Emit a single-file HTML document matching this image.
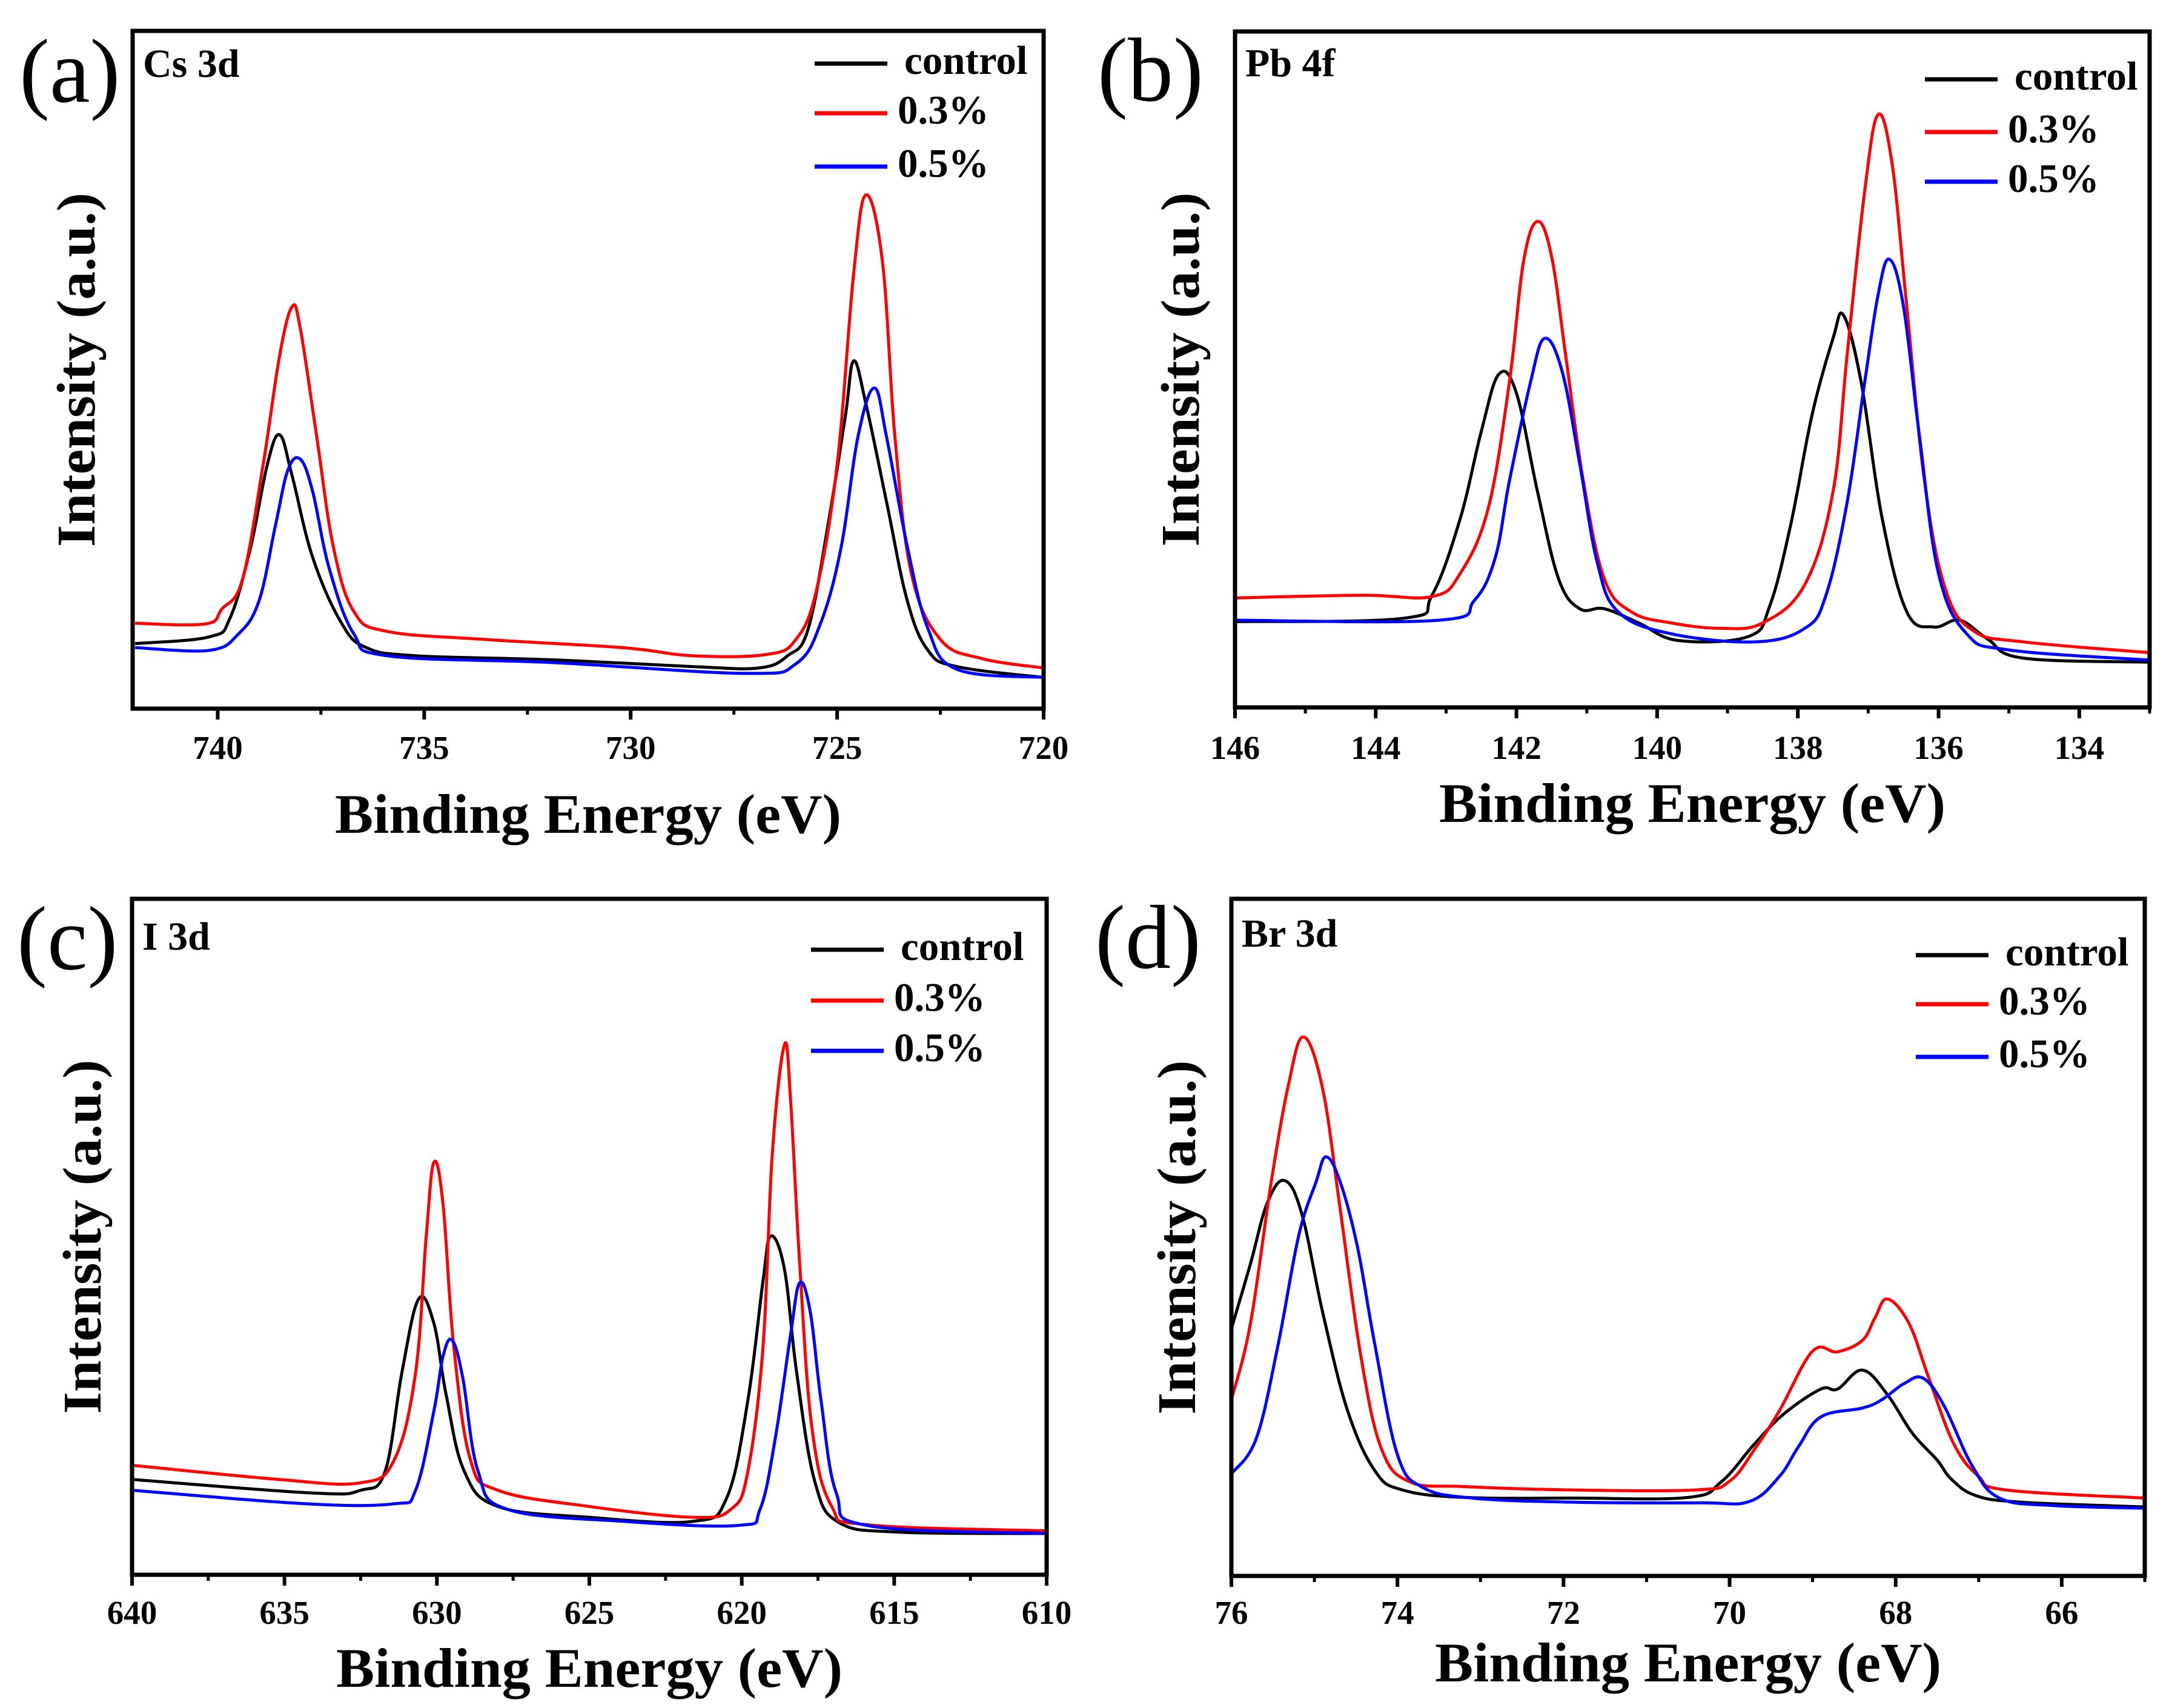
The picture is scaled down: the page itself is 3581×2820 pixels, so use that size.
<!DOCTYPE html>
<html><head><meta charset="utf-8"><style>
html,body{margin:0;padding:0;background:#fff;}
svg{display:block;}
text{font-family:"Liberation Serif","DejaVu Serif",serif;}
</style></head><body>
<svg id="fig" width="3581" height="2820" viewBox="0 0 3581 2820" xmlns="http://www.w3.org/2000/svg">
<rect x="0" y="0" width="3581" height="2820" fill="#fff"/>
</svg>
<script>
// ---------- Panel (a) Cs 3d ----------
const aCtrlE=[742,740.2,739.7,739.2,738.8,738.5,738.2,737.7,737.0,736.4,735.2,731.9,728.5,726.9,726.2,725.7,725.2,724.8,724.6,724.3,723.8,723.3,722.8,722.1,720];
const aCtrlI=[9.6,10.6,13.4,23.9,36.0,40.4,34.4,22.3,12.6,9.0,7.8,7.2,6.2,6.0,7.8,11.8,27.9,43.2,51.3,44.9,30.4,15.9,8.6,6.2,4.6];
const aRedE=[742,740.3,739.9,739.4,738.9,738.5,738.2,738.0,737.6,737.2,736.7,735.9,733.5,730.2,728.5,726.7,726.0,725.5,725.0,724.6,724.3,723.9,723.6,723.2,722.5,721.5,720];
const aRedI=[12.6,12.5,14.7,19.1,36.0,52.1,59.3,56.1,40.0,23.9,14.3,11.4,10.2,9.0,7.8,8.0,10.2,17.5,36.0,64.2,75.8,65.8,40.0,19.9,10.2,7.4,6.0];
const aBlueE=[742,740.2,739.5,739.0,738.6,738.3,738.0,737.7,737.3,736.7,735.9,731.9,727.2,726.0,725.4,724.9,724.5,724.1,723.8,723.3,722.8,722.1,720];
const aBlueI=[9.0,8.6,11.0,15.9,27.1,35.2,36.8,32.0,20.7,11.0,7.8,6.8,5.2,6.6,12.6,23.9,40.0,47.3,40.0,23.9,11.8,5.8,4.6];
const aTicks=[740,735,730,725,720];
const aMinor=[737.5,732.5,727.5,722.5];

// ---------- Panel (b) Pb 4f ----------
const bCtrlE=[146,143.6,143.2,142.8,142.5,142.25,142.0,141.7,141.4,141.1,140.75,140.26,139.7,138.7,138.4,138.1,137.8,137.5,137.35,137.1,136.8,136.45,136.07,135.7,135.3,134.8,133];
const bCtrlI=[12.7,13.2,16.6,27.9,40.8,49.3,46.5,31.9,19.0,14.6,14.6,12.5,9.9,10.5,15.0,27.1,43.2,54.6,58.0,48.1,27.9,14.1,11.9,12.9,10.1,7.3,6.7];
const bRedE=[146,144.2,143.2,142.8,142.4,142.1,141.9,141.7,141.5,141.3,141.05,140.75,140.36,139.8,139.1,138.5,137.9,137.5,137.3,137.05,136.86,136.66,136.46,136.2,135.9,135.5,134.8,133];
const bRedI=[16.2,16.6,16.4,19.8,29.5,48.1,65.9,71.9,66.7,52.1,33.5,19.0,14.1,12.5,11.7,12.5,18.2,31.9,52.1,76.4,87.7,80.4,60.2,33.5,17.4,11.3,9.7,8.1];
const bBlueE=[146,143.1,142.6,142.3,142.1,141.8,141.6,141.35,141.1,140.85,140.55,139.8,138.6,137.9,137.6,137.3,137.05,136.86,136.7,136.5,136.27,136.0,135.6,135.0,133];
const bBlueI=[12.9,12.9,15.8,22.2,33.5,48.1,54.6,49.7,36.0,21.4,14.1,10.9,9.7,11.7,16.6,30.3,48.1,61.0,66.3,59.4,40.0,19.8,10.9,8.5,7.0];
const bTicks=[146,144,142,140,138,136,134];
const bMinor=[145,143,141,139,137,135,133];

// ---------- Panel (c) I 3d ----------
const cCtrlE=[640,634.1,632.5,631.7,631.15,630.6,630.1,629.7,629.1,628.0,625.0,621.6,620.5,619.8,619.3,619.05,618.6,618.2,617.6,616.8,614.8,610];
const cCtrlI=[14.1,12.1,12.5,15.3,29.9,40.8,37.2,26.7,15.3,10.1,8.5,7.9,11.3,25.8,43.6,50.1,45.2,29.9,13.7,7.7,6.3,6.1];
const cRedE=[640,635.2,632.5,631.4,630.7,630.35,630.1,629.8,629.45,628.9,628.0,625.0,621.6,620.35,619.8,619.3,619.0,618.6,618.4,618.1,617.7,617.05,615.9,610];
const cRedI=[16.2,14.1,13.6,17.0,29.9,50.1,61.0,54.9,33.9,17.0,12.5,10.1,8.5,9.7,15.3,33.9,62.2,78.4,70.3,46.0,21.8,10.1,7.4,6.5];
const cBlueE=[640,634.3,631.4,630.7,630.1,629.8,629.5,629.15,628.65,627.7,623.9,620.1,619.4,618.9,618.4,618.1,617.75,617.4,616.9,615.9,610];
const cBlueI=[12.5,10.5,10.5,12.5,24.2,32.3,34.7,29.1,15.3,9.7,7.9,7.3,9.7,20.2,35.5,43.2,38.8,25.8,12.1,7.3,6.1];
const cTicks=[640,635,630,625,620,615,610];
const cMinor=[637.5,632.5,627.5,622.5,617.5,612.5];

// ---------- Panel (d) Br 3d ----------
const dCtrlE=[76,75.77,75.57,75.36,75.15,74.9,74.6,74.27,73.94,73.2,71.9,70.5,70.1,69.7,69.34,68.9,68.7,68.4,68.1,67.8,67.5,67.33,67.04,66.5,65];
const dCtrlI=[36.5,46.1,55.0,58.4,53.4,38.9,24.4,15.5,12.7,11.6,11.5,11.6,13.9,19.5,24.0,27.6,27.6,30.4,26.8,21.1,17.1,14.3,11.9,10.9,10.2];
const dRedE=[76,75.77,75.52,75.31,75.13,74.9,74.69,74.44,74.19,73.85,73.2,71.9,70.4,70.0,69.7,69.4,69.0,68.7,68.4,68.25,68.1,67.84,67.6,67.3,67.0,66.67,65];
const dRedI=[26.0,37.3,58.2,72.7,79.6,71.9,54.2,32.4,18.7,13.9,13.2,12.7,12.7,14.0,18.7,24.4,33.2,33.1,34.8,38.1,40.9,37.3,29.2,19.5,14.7,12.7,11.5];
const dBlueE=[76,75.7,75.44,75.19,74.98,74.86,74.69,74.48,74.27,74.0,73.7,73.1,71.9,70.35,69.76,69.4,69.17,68.9,68.4,68.17,67.9,67.67,67.42,67.08,66.75,66.1,65];
const dBlueI=[15.1,20.3,34.0,50.2,58.2,61.9,58.2,48.5,34.0,17.9,13.1,11.5,10.9,10.8,11.0,14.7,19.1,23.5,24.8,26.0,28.4,29.2,25.2,16.3,11.5,10.4,10.0];
const dTicks=[76,74,72,70,68,66];
const dMinor=[75,73,71,69,67,65];

const seriesNames=["control","0.3%","0.5%"];
const seriesColors=["#000000","#ff0000","#0000ff"];

const NS="http://www.w3.org/2000/svg";
const svg=document.getElementById('fig');
function mk(tag,attrs,parent){const e=document.createElementNS(NS,tag);for(const k in attrs)e.setAttribute(k,attrs[k]);(parent||svg).appendChild(e);return e;}

function smoothPath(pts){
  let d='M'+pts[0][0].toFixed(1)+','+pts[0][1].toFixed(1);
  for(let i=0;i<pts.length-1;i++){
    const p0=pts[i-1]||pts[i],p1=pts[i],p2=pts[i+1],p3=pts[i+2]||p2;
    const t=0.18;
    const c1=[p1[0]+(p2[0]-p0[0])*t,p1[1]+(p2[1]-p0[1])*t];
    const c2=[p2[0]-(p3[0]-p1[0])*t,p2[1]-(p3[1]-p1[1])*t];
    d+='C'+c1[0].toFixed(1)+','+c1[1].toFixed(1)+' '+c2[0].toFixed(1)+','+c2[1].toFixed(1)+' '+p2[0].toFixed(1)+','+p2[1].toFixed(1);
  }
  return d;
}

function panel(p){
  const g=mk('g',{});
  
  
  const xs=e=>p.L+(p.e0-e)/(p.e0-p.e1)*(p.R-p.L);
  const ys=v=>p.B-v/100*(p.B-p.T);
  const cp=mk('clipPath',{id:'clip-'+p.id},g);
  mk('rect',{x:p.L,y:p.T,width:p.R-p.L,height:p.B-p.T},cp);
  const cg=mk('g',{'clip-path':'url(#clip-'+p.id+')'},g);
  p.series.forEach((s,i)=>{
    const pts=s[0].map((e,j)=>[xs(e),ys(s[1][j])]);
    const path=mk('path',{d:smoothPath(pts),fill:'none',stroke:seriesColors[i],'stroke-width':5,'stroke-linejoin':'round'},cg);
    
    
  });
  const fr=mk('rect',{x:p.L,y:p.T,width:p.R-p.L,height:p.B-p.T,fill:'none',stroke:'#000','stroke-width':7},g);
  
  
  p.ticks.forEach(t=>{
    const x=xs(t);
    mk('line',{x1:x,x2:x,y1:p.B,y2:p.B+18,stroke:'#000','stroke-width':6},g);
    const tx=mk('text',{x:x,y:p.tickY,'text-anchor':'middle','font-size':55,'font-weight':'bold'},g);
    tx.textContent=t;
    
    
  });
  p.minor.forEach(t=>{const x=xs(t);mk('line',{x1:x,x2:x,y1:p.B,y2:p.B+10,stroke:'#000','stroke-width':5},g);});
  const xt=mk('text',{x:(p.L+p.R)/2,y:p.xTitleY,'text-anchor':'middle','font-size':92,'font-weight':'bold',textLength:836,lengthAdjust:'spacingAndGlyphs'},g);
  xt.textContent='Binding Energy (eV)';
  
  
  const cy=(p.T+p.B)/2;
  const yt=mk('text',{x:p.yTitleX,y:cy,'text-anchor':'middle','font-size':90,'font-weight':'bold',transform:'rotate(-90 '+p.yTitleX+' '+cy+')',textLength:585,lengthAdjust:'spacingAndGlyphs'},g);
  yt.textContent='Intensity (a.u.)';
  
  
  const pl=mk('text',{x:p.labX,y:p.labY,'font-size':150},g);
  pl.textContent='('+p.id+')';
  
  
  const el=mk('text',{x:p.L+17,y:p.elY,'font-size':66,'font-weight':'bold'},g);
  el.textContent=p.elem;
  
  
  seriesNames.forEach((n,i)=>{
    const ly=p.legY[i];
    const lg=mk('g',{},g);
    
    
    mk('line',{x1:p.legX,x2:p.legX+120,y1:ly,y2:ly,stroke:seriesColors[i],'stroke-width':7},lg);
    const t=mk('text',{x:p.legX+(i===0?148:137),y:ly+17,'font-size':67,'font-weight':'bold'},lg);
    t.textContent=n;
  });
}

panel({id:'a',elem:'Cs 3d',L:219,R:1723,T:51,B:1170,e0:742.06,e1:720,
  series:[[aCtrlE,aCtrlI],[aRedE,aRedI],[aBlueE,aBlueI]],ticks:aTicks,minor:aMinor,
  tickY:1253,xTitleY:1375,yTitleX:156,labX:32,labY:168,elY:127,legX:1345,legY:[105,187,275]});
panel({id:'b',elem:'Pb 4f',L:2039,R:3549,T:52,B:1168,e0:146,e1:133,
  series:[[bCtrlE,bCtrlI],[bRedE,bRedI],[bBlueE,bBlueI]],ticks:bTicks,minor:bMinor,
  tickY:1253,xTitleY:1357,yTitleX:1979,labX:1812,labY:166,elY:126,legX:3178,legY:[131,218,300]});
panel({id:'c',elem:'I 3d',L:218,R:1728,T:1484,B:2600,e0:640,e1:610,
  series:[[cCtrlE,cCtrlI],[cRedE,cRedI],[cBlueE,cBlueI]],ticks:cTicks,minor:cMinor,
  tickY:2681,xTitleY:2785,yTitleX:166,labX:28,labY:1600,elY:1568,legX:1339,legY:[1568,1652,1735]});
panel({id:'d',elem:'Br 3d',L:2033,R:3541,T:1484,B:2602,e0:76,e1:65,
  series:[[dCtrlE,dCtrlI],[dRedE,dRedI],[dBlueE,dBlueI]],ticks:dTicks,minor:dMinor,
  tickY:2681,xTitleY:2776,yTitleX:1973,labX:1808,labY:1598,elY:1563,legX:3163,legY:[1577,1658,1745]});
</script>
</body></html>
